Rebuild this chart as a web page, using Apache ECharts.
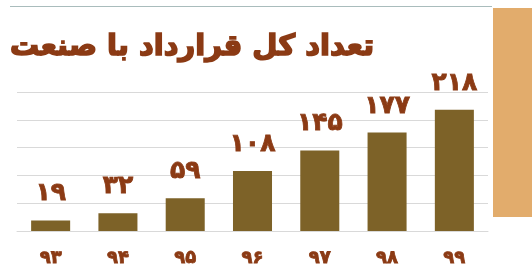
<!DOCTYPE html>
<html>
<head>
<meta charset="utf-8">
<script src="https://cdn.jsdelivr.net/npm/echarts@6/dist/echarts.min.js"></script>
<style>
  html, body { margin: 0; padding: 0; background: #fff; }
  #main { width: 532px; height: 276px; }
</style>
</head>
<body>
<div id="main"></div>
<script>
// data
var years = ['۹۳', '۹۴', '۹۵', '۹۶', '۹۷', '۹۸', '۹۹']
var contracts = [19, 32, 59, 108, 145, 177, 218]
var title = 'تعداد کل قرارداد با صنعت'

var faDigits = '۰۱۲۳۴۵۶۷۸۹'
function toFa(n) {
    return String(n).replace(/[0-9]/g, function (d) { return faDigits[+d] })
}

var brown = '#8B3A14'

var chart = echarts.init(document.getElementById('main'))

chart.setOption({
    animation: false,
    title: {
        text: title,
        left: 10,
        top: 33,
        padding: 0,
        textStyle: {
            fontFamily: 'DejaVu Sans',
            fontWeight: 'bold',
            fontSize: 29,
            color: brown,
            textBorderColor: brown,
            textBorderWidth: 1.6
        }
    },
    graphic: [
        {
            type: 'line',
            shape: { x1: 10, y1: 6.5, x2: 492, y2: 6.5 },
            style: { stroke: '#a9bcbc', lineWidth: 1 }
        },
        {
            type: 'rect',
            shape: { x: 493, y: 8, width: 39, height: 209 },
            style: { fill: '#E2AC6C' }
        }
    ],
    grid: {
        left: 17,
        right: 44,
        top: 92,
        bottom: 45
    },
    xAxis: {
        type: 'category',
        data: years,
        axisLine: { lineStyle: { color: '#d9d9d9' } },
        axisTick: { show: false },
        axisLabel: {
            margin: 18,
            fontFamily: 'DejaVu Sans',
            fontWeight: 'bold',
            fontSize: 18,
            color: brown,
            textBorderColor: brown,
            textBorderWidth: 0.8
        }
    },
    yAxis: {
        type: 'value',
        min: 0,
        max: 250,
        interval: 50,
        axisLabel: { show: false },
        axisLine: { show: false },
        axisTick: { show: false },
        splitLine: { lineStyle: { color: '#d9d9d9' } }
    },
    series: [{
        type: 'bar',
        data: contracts,
        barCategoryGap: '42%',
        itemStyle: { color: '#7D6228' },
        label: {
            show: true,
            position: 'top',
            distance: 14,
            formatter: function (p) { return toFa(p.value) },
            fontFamily: 'DejaVu Sans',
            fontWeight: 'bold',
            fontSize: 25,
            color: brown,
            textBorderColor: brown,
            textBorderWidth: 0.8
        }
    }]
})
</script>
</body>
</html>
